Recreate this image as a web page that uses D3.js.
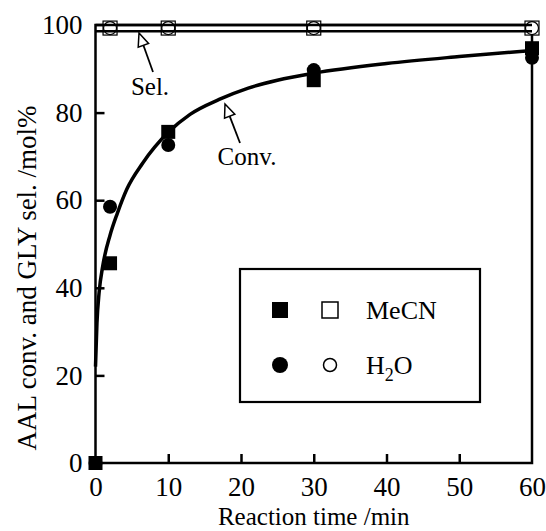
<!DOCTYPE html>
<html>
<head>
<meta charset="utf-8">
<script src="https://cdn.jsdelivr.net/npm/d3@7"></script>
<style>
  body { margin: 0; background: #fff; }
  svg text { font-family: "Liberation Serif", "Times New Roman", Times, serif; fill: #000; }
</style>
</head>
<body>
<div id="chart"></div>
<script>
// conversion points (filled) and selectivity points (open)
const times = [0, 2, 10, 30, 60];
const mecnConv = [0, 45.6, 75.6, 87.4, 94.7];
const h2oConv = [0, 58.5, 72.6, 89.7, 92.5];
const selTimes = [2, 10, 30, 60];
const mecnSel = [99.3, 99.3, 99.3, 99.3];
const h2oSel = [99.3, 99.3, 99.3, 99.3];

// fitted curves
const convCurveT = [0, 0.2, 0.5, 1, 2, 3, 4.3, 6.5, 10, 13, 17, 21, 25, 30, 40, 50, 60];
const convCurveV = [22, 32, 39, 45, 52, 57, 62.5, 68.5, 75.5, 79.6, 83.0, 85.6, 87.4, 89.0, 91.2, 92.8, 94.2];
const selCurveT = [0, 60];
const selCurveV = [98.6, 98.6];

const xTicks = [0, 10, 20, 30, 40, 50, 60];
const yTicks = [0, 20, 40, 60, 80, 100];

const width = 546, height = 531;
const margin = { top: 25, right: 14, bottom: 68, left: 95.5 };

const svg = d3.select("#chart").append("svg")
  .attr("width", width).attr("height", height);

const x = d3.scaleLinear().domain([0, 60]).range([margin.left, width - margin.right]);
const y = d3.scaleLinear().domain([0, 100]).range([height - margin.bottom, margin.top]);

// frame
svg.append("rect")
  .attr("x", x(0)).attr("y", y(100))
  .attr("width", x(60) - x(0)).attr("height", y(0) - y(100))
  .attr("fill", "none").attr("stroke", "#000").attr("stroke-width", 2.5);

// axes with inward ticks
const xAxis = svg.append("g").attr("transform", `translate(0,${y(0)})`)
  .call(d3.axisBottom(x).tickValues(xTicks).tickSizeInner(-9).tickSizeOuter(0).tickPadding(14));
const yAxis = svg.append("g").attr("transform", `translate(${x(0)},0)`)
  .call(d3.axisLeft(y).tickValues(yTicks).tickSizeInner(-9).tickSizeOuter(0).tickPadding(13));
[xAxis, yAxis].forEach(g => {
  g.attr("font-family", null);
  g.select(".domain").remove();
  g.selectAll(".tick line").attr("stroke", "#000").attr("stroke-width", 2.5);
  g.selectAll(".tick text").attr("font-size", "27px").attr("fill", "#000");
});
xAxis.selectAll(".tick").filter(d => d === 0 || d === 60).select("line").remove();
yAxis.selectAll(".tick").filter(d => d === 0 || d === 100).select("line").remove();

// axis titles
svg.append("text").attr("x", (x(0) + x(60)) / 2).attr("y", 525)
  .attr("text-anchor", "middle").attr("font-size", "25px").text("Reaction time /min");
svg.append("text")
  .attr("transform", `translate(36,278) rotate(-90)`)
  .attr("text-anchor", "middle").attr("font-size", "27px")
  .text("AAL conv. and GLY sel. /mol%");

// curves
const line = d3.line().x(d => x(d[0])).y(d => y(d[1])).curve(d3.curveMonotoneX);
const selData = selCurveT.map((t, i) => [t, selCurveV[i]]);
svg.append("path").datum(convCurveT.map((t, i) => [t, convCurveV[i]]))
  .attr("fill", "none").attr("stroke", "#000").attr("stroke-width", 3.5).attr("d", line);

// open markers (selectivity)
const sq = 14, cr = 7;
svg.append("g").selectAll("rect").data(selTimes.map((t, i) => [t, mecnSel[i]])).join("rect")
  .attr("x", d => x(d[0]) - sq / 2).attr("y", d => y(d[1]) - sq / 2)
  .attr("width", sq).attr("height", sq)
  .attr("fill", "#fff").attr("stroke", "#000").attr("stroke-width", 1.2);
svg.append("g").selectAll("circle").data(selTimes.map((t, i) => [t, h2oSel[i]])).join("circle")
  .attr("cx", d => x(d[0])).attr("cy", d => y(d[1])).attr("r", cr - 0.5)
  .attr("fill", "none").attr("stroke", "#000").attr("stroke-width", 1.2);
// sel line over open markers, frame top redrawn too
svg.append("path").datum(selData)
  .attr("fill", "none").attr("stroke", "#000").attr("stroke-width", 2.5).attr("d", line);
svg.append("line").attr("x1", x(0)).attr("x2", x(60)).attr("y1", y(100)).attr("y2", y(100))
  .attr("stroke", "#000").attr("stroke-width", 2.5);

// filled markers (conversion)
svg.append("g").selectAll("circle").data(times.map((t, i) => [t, h2oConv[i]])).join("circle")
  .attr("cx", d => x(d[0])).attr("cy", d => y(d[1])).attr("r", cr).attr("fill", "#000");
svg.append("g").selectAll("rect").data(times.map((t, i) => [t, mecnConv[i]])).join("rect")
  .attr("x", d => x(d[0]) - sq / 2).attr("y", d => y(d[1]) - sq / 2)
  .attr("width", sq).attr("height", sq).attr("fill", "#000");

// annotation arrows with open heads
function arrow(x1, y1, x2, y2) {
  const ang = Math.atan2(y2 - y1, x2 - x1);
  const len = 13, half = 5.5;
  const bx = x2 - len * Math.cos(ang), by = y2 - len * Math.sin(ang);
  svg.append("line").attr("x1", x1).attr("y1", y1).attr("x2", bx).attr("y2", by)
    .attr("stroke", "#000").attr("stroke-width", 1.8);
  const px = -Math.sin(ang) * half, py = Math.cos(ang) * half;
  svg.append("path")
    .attr("d", `M${x2},${y2}L${bx + px},${by + py}L${bx - px},${by - py}Z`)
    .attr("fill", "#fff").attr("stroke", "#000").attr("stroke-width", 1.5);
}
arrow(153, 72, 139, 33);
arrow(240, 143, 225, 104);
svg.append("text").attr("x", 150).attr("y", 95).attr("text-anchor", "middle")
  .attr("font-size", "25px").text("Sel.");
svg.append("text").attr("x", 247).attr("y", 165).attr("text-anchor", "middle")
  .attr("font-size", "25px").text("Conv.");

// legend
const lg = svg.append("g");
lg.append("rect").attr("x", 240).attr("y", 269).attr("width", 240).attr("height", 133)
  .attr("fill", "#fff").attr("stroke", "#000").attr("stroke-width", 2.2);
lg.append("rect").attr("x", 280 - 8).attr("y", 310 - 8).attr("width", 16).attr("height", 16).attr("fill", "#000");
lg.append("rect").attr("x", 330 - 8).attr("y", 310 - 8).attr("width", 16).attr("height", 16)
  .attr("fill", "#fff").attr("stroke", "#000").attr("stroke-width", 1.5);
lg.append("circle").attr("cx", 280).attr("cy", 365).attr("r", 8).attr("fill", "#000");
lg.append("circle").attr("cx", 330).attr("cy", 365).attr("r", 6.5)
  .attr("fill", "#fff").attr("stroke", "#000").attr("stroke-width", 1.5);
lg.append("text").attr("x", 366).attr("y", 319).attr("font-size", "26px").text("MeCN");
const h2o = lg.append("text").attr("x", 366).attr("y", 374).attr("font-size", "26px");
h2o.append("tspan").text("H");
h2o.append("tspan").attr("dy", 7).attr("font-size", "18px").text("2");
h2o.append("tspan").attr("dy", -7).text("O");
</script>
</body>
</html>
